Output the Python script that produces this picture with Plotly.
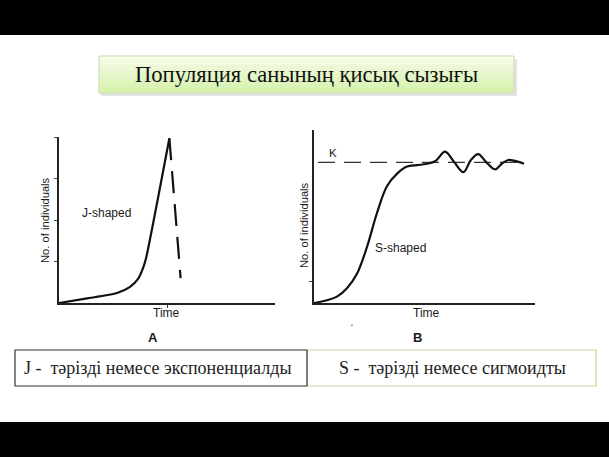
import plotly.graph_objects as go

W, H = 609, 457

# ---- data ----
# Chart A: J-shaped growth (time in arbitrary units, count in tick units)
j_time = [0, 1.30, 2.69, 3.29, 3.66, 3.89, 4.03, 5.11]
j_count = [0, 0.11, 0.24, 0.39, 0.58, 0.84, 1.08, 3.97]
j_crash_time = [5.11, 5.63]
j_crash_count = [3.97, 0.60]

# Chart B: S-shaped growth (K = 100)
s_time = [0, 0.59, 1.04, 1.49, 1.95, 2.40, 2.85, 3.30, 3.76, 4.21, 4.66, 5.11,
          5.50, 5.93, 6.35, 6.76, 7.10, 7.43, 7.80, 8.19, 8.50, 8.79, 9.10, 9.50]
s_count = [0, 2, 4.5, 10.5, 21, 40, 64, 83, 92, 97, 98, 99,
           101, 107.6, 100, 93, 101.7, 105.9, 100, 95, 99, 101.7, 101, 99]
k_level = 100
k_span = [0.18, 9.5]

title_text = "Популяция санының қисық сызығы"
left_caption = "J -\u00a0 тәрізді немесе экспоненциалды"
right_caption = "S -\u00a0 тәрізді немесе сигмоидты"


def X(px):
    return px / W


def Y(py):
    return 1 - py / H


fig = go.Figure()

# J curve
fig.add_trace(go.Scatter(x=j_time, y=j_count, mode="lines",
                         line=dict(color="#111", width=2.2, shape="spline", smoothing=0.6),
                         xaxis="x", yaxis="y", hoverinfo="skip"))
fig.add_trace(go.Scatter(x=j_crash_time, y=j_crash_count, mode="lines",
                         line=dict(color="#111", width=2.2, dash="22px,11px"),
                         xaxis="x", yaxis="y", hoverinfo="skip"))
# K line
fig.add_trace(go.Scatter(x=k_span, y=[k_level, k_level], mode="lines",
                         line=dict(color="#333", width=1.3, dash="17px,9px"),
                         xaxis="x2", yaxis="y2", hoverinfo="skip"))
# S curve
fig.add_trace(go.Scatter(x=s_time, y=s_count, mode="lines",
                         line=dict(color="#111", width=2.2, shape="spline", smoothing=1.0),
                         xaxis="x2", yaxis="y2", hoverinfo="skip"))

axis_common = dict(showgrid=False, zeroline=False, showline=True, linecolor="#222",
                   linewidth=1.6, showticklabels=False, ticks="outside", ticklen=3,
                   tickcolor="#444", tickwidth=1, fixedrange=True)

shapes = []
# black bands
shapes.append(dict(type="rect", xref="paper", yref="paper", x0=0, x1=1, y0=Y(35), y1=1,
                   fillcolor="black", line=dict(width=0), layer="below"))
shapes.append(dict(type="rect", xref="paper", yref="paper", x0=0, x1=1, y0=0, y1=Y(422),
                   fillcolor="black", line=dict(width=0), layer="below"))
# title box shadow
shapes.append(dict(type="rect", xref="paper", yref="paper", x0=X(101), x1=X(517), y0=Y(96), y1=Y(59),
                   fillcolor="#e4e4e4", line=dict(width=0), layer="below"))
# title box gradient
top_col = (246, 253, 232)
bot_col = (214, 243, 170)
n = 14
y_top, y_bot = 56, 93
for i in range(n):
    t = i / (n - 1)
    c = tuple(int(top_col[k] + (bot_col[k] - top_col[k]) * t) for k in range(3))
    ya = y_top + (y_bot - y_top) * i / n
    yb = y_top + (y_bot - y_top) * (i + 1) / n
    shapes.append(dict(type="rect", xref="paper", yref="paper", x0=X(99), x1=X(514),
                       y0=Y(yb), y1=Y(ya), fillcolor="rgb(%d,%d,%d)" % c,
                       line=dict(width=0), layer="below"))
shapes.append(dict(type="rect", xref="paper", yref="paper", x0=X(99), x1=X(514), y0=Y(93), y1=Y(56),
                   fillcolor="rgba(0,0,0,0)", line=dict(color="#c9d8b0", width=1), layer="below"))
# caption table
shapes.append(dict(type="rect", xref="paper", yref="paper", x0=X(307), x1=X(596), y0=Y(386), y1=Y(350),
                   fillcolor="white", line=dict(color="#c4d79b", width=1.2), layer="below"))
shapes.append(dict(type="rect", xref="paper", yref="paper", x0=X(15), x1=X(307), y0=Y(386), y1=Y(350),
                   fillcolor="white", line=dict(color="#333", width=1.2), layer="below"))

sans = "Liberation Sans, Arial, sans-serif"
serif = "Liberation Serif, Times New Roman, serif"
ann = []


def A(px, py, text, size=11, family=sans, angle=0, xanchor="center", bold=False, color="#1a1a1a"):
    ann.append(dict(x=X(px), y=Y(py), xref="paper", yref="paper", text=("<b>%s</b>" % text) if bold else text,
                    showarrow=False, font=dict(family=family, size=size, color=color),
                    textangle=angle, xanchor=xanchor, yanchor="middle"))


A(306.5, 75, title_text, size=22.6, family=serif, color="#111")
A(45, 220, "No. of individuals", size=11.2, angle=-90)
A(304, 225, "No. of individuals", size=11.2, angle=-90)
A(106, 213, "J-shaped", size=12)
A(400, 248, "S-shaped", size=12)
A(333, 153, "K", size=11.5)
A(166, 313, "Time", size=12)
A(426, 313, "Time", size=12)
A(153, 337, "A", size=13, bold=True)
A(417, 337, "B", size=13, bold=True)
A(352, 325, "•", size=5, color="#444")
A(22, 368, left_caption, size=18, family=serif, xanchor="left", color="#222")
A(452, 368, right_caption, size=18, family=serif, color="#222")

fig.update_layout(
    width=W, height=H, margin=dict(l=0, r=0, t=0, b=0),
    paper_bgcolor="white", plot_bgcolor="rgba(0,0,0,0)", showlegend=False,
    xaxis=dict(domain=[X(59), X(275)], range=[0, 10], tickvals=[5], anchor="y", **axis_common),
    yaxis=dict(domain=[Y(303), Y(137)], range=[0, 4], tickvals=[1, 2, 3, 4], anchor="x", **axis_common),
    xaxis2=dict(domain=[X(314), X(535)], range=[0, 10], tickvals=[], anchor="y2", **axis_common),
    yaxis2=dict(domain=[Y(303), Y(130)], range=[0, 123], tickvals=[15.6], anchor="x2", **axis_common),
    shapes=shapes, annotations=ann,
)

fig.write_html("out.html", config={"displayModeBar": False},
               post_script="document.body.style.margin='0';document.body.style.overflow='hidden';")
